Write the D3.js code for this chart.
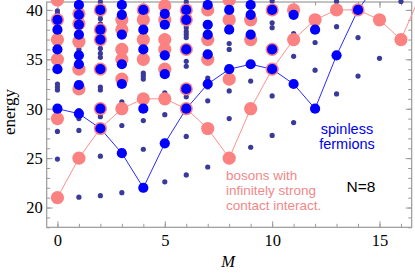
<!DOCTYPE html>
<html>
<head>
<meta charset="utf-8">
<script src="https://cdn.jsdelivr.net/npm/d3@7"></script>
<style>
  body { margin: 0; background: #fff; }
  svg { display: block; }
</style>
</head>
<body>
<svg id="chart" width="415" height="274"></svg>
<script>
// angular momentum M for each column
var mValues = [0, 1, 2, 3, 4, 5, 6, 7, 8, 9, 10, 11, 12, 13, 14, 15, 16];

// spinless fermion levels per M (big blue dots)
var fermionLevels = [
  [30, 34, 36, 38, 39],
  [29.5, 32.4, 34.5, 35.4, 37.5, 38.5, 39.5, 40.5],
  [28, 30, 34, 37, 38, 40],
  [25.5, 32.5, 34.5, 37.5, 39.5, 40.5],
  [22, 30, 36, 38, 40],
  [26.5, 33.5, 35.4, 38.5, 39.6],
  [30, 32, 36, 39, 40],
  [32.5, 35.5, 37.5, 38.5, 40.5],
  [34, 38, 40],
  [34.5, 37.5, 39.5, 40.5],
  [34, 36, 40],
  [32.5, 39.5],
  [30, 38],
  [35.4],
  [40],
  [],
  []
];

// bosons with infinitely strong contact interaction (big salmon dots)
var bosonLevels = [
  [21, 29, 35, 37, 39, 41],
  [25, 32, 34, 36.8, 38.6, 39.6],
  [28, 30, 34, 37, 38, 40],
  [30, 33, 35, 36, 38, 39],
  [31, 35, 37, 39, 40],
  [31, 34, 36, 37, 39, 40.4],
  [30, 32, 36, 39, 40],
  [28, 35, 37, 40],
  [25, 33, 39, 41],
  [30, 37, 39],
  [34, 36, 40],
  [37, 40],
  [39],
  [40],
  [40],
  [39],
  [37]
];

// remaining levels (small dark dots)
var otherLevels = [
  [24.9, 27.7, 31.9, 32.2, 32.5, 39.6, 39.9],
  [21.05, 27.8, 29.0, 29.8, 35.6, 36.0],
  [21.2, 25.2, 29.2, 31.9, 32.2, 35.2, 35.6, 36.1, 38.6, 39.1, 39.5, 40.8],
  [21.5, 28.3, 30.7],
  [25.9, 28.8, 33.0, 33.3, 33.6],
  [22.6, 29.4, 31.6],
  [23.3, 27.2, 31.2, 34.3, 34.8, 37.2, 37.5, 37.8, 38.2, 40.8],
  [24.1, 30.8, 32.2, 33.1],
  [29.0, 31.8, 36.0, 36.6],
  [26.1, 32.8],
  [27.3, 31.3, 38.2, 38.7, 40.9],
  [28.6, 35.3, 36.6, 37.6],
  [33.9, 36.7],
  [31.5, 38.3, 40.85],
  [33.3, 37.2],
  [35.1],
  [40.85]
];

// lowest energies joined by lines (run past the frame at the end)
var fermionGround = [30, 29.5, 28, 25.5, 22, 26.5, 30, 32.5, 34, 34.5, 34, 32.5, 30, 35.4, 40, 43];
var bosonGround = [21, 25, 28, 30, 31, 31, 30, 28, 25, 30, 34, 37, 39, 40, 40, 39, 37, 42];

var xMajor = [0, 5, 10, 15];
var yMajor = [20, 25, 30, 35, 40];

var svg = d3.select("#chart");
var plotLeft = 46.7, plotRight = 411.7, plotTop = 2, plotBottom = 227.3;

var x = d3.scaleLinear().domain([-0.5, 16.5]).range([plotLeft, plotRight]);
var y = d3.scaleLinear().domain([18, 40.8]).range([plotBottom, plotTop]);

var xMinor = d3.range(0, 17);
var yMinor = d3.range(18, 41);

function flatten(levels) {
  var out = [];
  levels.forEach(function (list, i) {
    list.forEach(function (e) { out.push({ m: mValues[i], e: e }); });
  });
  return out;
}

// axes: ticks pointing into the frame
function styleAxis(g) {
  g.select(".domain").remove();
  g.selectAll(".tick line").attr("stroke", "#9a9a9a");
  g.selectAll("text").attr("font-family", "Liberation Serif, serif").attr("font-size", 16.5).attr("fill", "#000");
}

svg.append("g").attr("transform", "translate(0," + plotBottom + ")")
  .call(d3.axisBottom(x).tickValues(xMinor).tickSize(-3.5).tickFormat("")).call(styleAxis);
svg.append("g").attr("transform", "translate(0," + plotBottom + ")")
  .call(d3.axisBottom(x).tickValues(xMajor).tickSize(-6).tickPadding(7).tickFormat(d3.format("d"))).call(styleAxis);
svg.append("g").attr("transform", "translate(0," + plotTop + ")")
  .call(d3.axisTop(x).tickValues(xMinor).tickSize(-3.5).tickFormat("")).call(styleAxis);
svg.append("g").attr("transform", "translate(0," + plotTop + ")")
  .call(d3.axisTop(x).tickValues(xMajor).tickSize(-6).tickFormat("")).call(styleAxis);

svg.append("g").attr("transform", "translate(" + plotLeft + ",0)")
  .call(d3.axisLeft(y).tickValues(yMinor).tickSize(-3.5).tickFormat("")).call(styleAxis);
svg.append("g").attr("transform", "translate(" + plotLeft + ",0)")
  .call(d3.axisLeft(y).tickValues(yMajor).tickSize(-6).tickPadding(4).tickFormat(d3.format("d"))).call(styleAxis);
svg.append("g").attr("transform", "translate(" + plotRight + ",0)")
  .call(d3.axisRight(y).tickValues(yMinor).tickSize(-3.5).tickFormat("")).call(styleAxis);
svg.append("g").attr("transform", "translate(" + plotRight + ",0)")
  .call(d3.axisRight(y).tickValues(yMajor).tickSize(-6).tickFormat("")).call(styleAxis);

// frame
svg.append("rect")
  .attr("x", plotLeft).attr("y", plotTop)
  .attr("width", plotRight - plotLeft).attr("height", plotBottom - plotTop)
  .attr("fill", "none").attr("stroke", "#9a9a9a").attr("stroke-width", 1.2);

// lines
var line = d3.line()
  .x(function (d, i) { return x(i); })
  .y(function (d) { return y(d); });

svg.append("path").datum(bosonGround)
  .attr("d", line).attr("fill", "none")
  .attr("stroke", "#ff9090").attr("stroke-width", 1);

svg.append("path").datum(fermionGround)
  .attr("d", line).attr("fill", "none")
  .attr("stroke", "#2a2aff").attr("stroke-width", 1);

// dots
svg.append("g").selectAll("circle")
  .data(flatten(otherLevels))
  .enter().append("circle")
  .attr("cx", function (d) { return x(d.m); })
  .attr("cy", function (d) { return y(d.e); })
  .attr("r", 2.6)
  .attr("fill", "#3a3a9a");

svg.append("g").selectAll("circle")
  .data(flatten(bosonLevels))
  .enter().append("circle")
  .attr("cx", function (d) { return x(d.m); })
  .attr("cy", function (d) { return y(d.e); })
  .attr("r", 6.6)
  .attr("fill", "#fc8282");

svg.append("g").selectAll("circle")
  .data(flatten(fermionLevels))
  .enter().append("circle")
  .attr("cx", function (d) { return x(d.m); })
  .attr("cy", function (d) { return y(d.e); })
  .attr("r", 5.1)
  .attr("fill", "#0000ff");

// axis labels
svg.append("text")
  .attr("transform", "translate(15,112) rotate(-90)")
  .attr("text-anchor", "middle")
  .attr("font-family", "Liberation Serif, serif")
  .attr("font-size", 17)
  .text("energy");

svg.append("text")
  .attr("x", 228).attr("y", 267)
  .attr("text-anchor", "middle")
  .attr("font-family", "Liberation Serif, serif")
  .attr("font-style", "italic")
  .attr("font-size", 16.5)
  .text("M");

// annotations
var sans = "Liberation Sans, Arial, sans-serif";
svg.append("text").attr("x", 347).attr("y", 134)
  .attr("text-anchor", "middle").attr("font-family", sans).attr("font-size", 14.5)
  .attr("fill", "#0000ee").text("spinless");
svg.append("text").attr("x", 347).attr("y", 149)
  .attr("text-anchor", "middle").attr("font-family", sans).attr("font-size", 14.5)
  .attr("fill", "#0000ee").text("fermions");

var bosonNote = ["bosons with", "infinitely strong", "contact interact."];
svg.append("g").selectAll("text")
  .data(bosonNote)
  .enter().append("text")
  .attr("x", 226)
  .attr("y", function (d, i) { return 180 + i * 15; })
  .attr("font-family", sans).attr("font-size", 13.5)
  .attr("fill", "#f08888")
  .text(function (d) { return d; });

svg.append("text").attr("x", 361).attr("y", 192)
  .attr("text-anchor", "middle").attr("font-family", sans).attr("font-size", 15.5)
  .attr("fill", "#000").text("N=8");
</script>
</body>
</html>
